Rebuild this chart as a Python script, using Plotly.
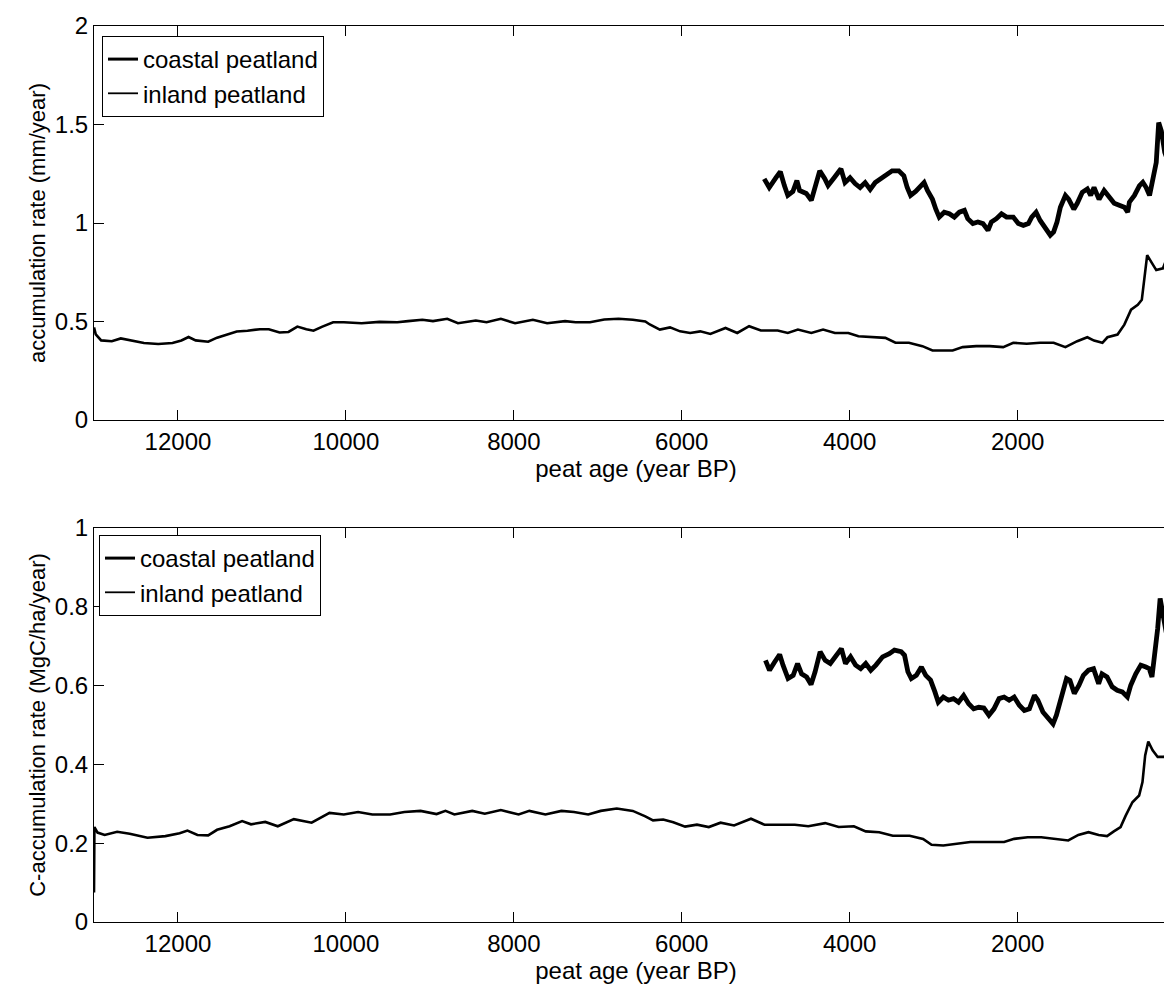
import plotly.graph_objects as go

# ---------------- data ----------------
# Top panel: accumulation rate (mm/year)
top_coastal_age = [5018, 4958, 4878, 4826, 4778, 4737, 4677, 4629, 4597, 4517, 4457, 4417, 4357, 4297,
                   4257, 4176, 4104, 4056, 3996, 3936, 3876, 3816, 3756, 3696, 3615, 3555, 3495, 3415,
                   3355, 3315, 3275, 3215, 3174, 3114, 3074, 3014, 2974, 2934, 2874, 2814, 2754, 2694,
                   2634, 2594, 2533, 2473, 2413, 2353, 2313, 2253, 2192, 2132, 2052, 1992, 1932, 1872,
                   1832, 1780, 1732, 1671, 1611, 1571, 1531, 1491, 1431, 1391, 1331, 1290, 1230, 1170,
                   1130, 1090, 1030, 970, 910, 850, 790, 729, 689, 669, 609, 549, 509, 469, 429, 389,
                   349, 320, 288, 248, 188, 148, 110]
top_coastal_rate = [1.224, 1.18, 1.23, 1.26, 1.19, 1.14, 1.16, 1.215, 1.165, 1.15, 1.115, 1.17, 1.265, 1.225,
                    1.19, 1.235, 1.275, 1.205, 1.23, 1.2, 1.18, 1.205, 1.17, 1.205, 1.23, 1.25, 1.265, 1.265,
                    1.24, 1.18, 1.14, 1.16, 1.18, 1.205, 1.165, 1.12, 1.07, 1.03, 1.055, 1.047, 1.03, 1.055,
                    1.064, 1.022, 0.997, 1.005, 0.997, 0.963, 1.005, 1.022, 1.047, 1.03, 1.03, 0.997, 0.988, 0.997,
                    1.03, 1.055, 1.013, 0.971, 0.938, 0.955, 1.005, 1.08, 1.14, 1.12, 1.07, 1.1, 1.156, 1.173,
                    1.14, 1.18, 1.12, 1.165, 1.13, 1.1, 1.09, 1.08, 1.055, 1.106, 1.14, 1.19, 1.207, 1.18, 1.14, 1.23,
                    1.307, 1.51, 1.467, 1.358, 1.29, 1.266, 1.34]

top_inland_age = [13000, 12979, 12915, 12788, 12681, 12575, 12405, 12235, 12065, 11959, 11874, 11789, 11640,
                  11534, 11427, 11300, 11172, 11024, 10918, 10790, 10684, 10578, 10471, 10386, 10280, 10152,
                  10025, 9813, 9600, 9388, 9260, 9090, 8963, 8793, 8665, 8453, 8325, 8155, 7985, 7773, 7603,
                  7390, 7263, 7093, 6923, 6753, 6583, 6434, 6381, 6261, 6140, 6020, 5900, 5780, 5659, 5479,
                  5339, 5198, 5058, 4858, 4737, 4617, 4457, 4317, 4176, 4016, 3896, 3736, 3575, 3455, 3295,
                  3134, 3014, 2894, 2774, 2654, 2493, 2333, 2172, 2052, 1892, 1732, 1571, 1431, 1290, 1170,
                  1090, 990, 930, 810, 729, 649, 569, 521, 489, 457, 409, 349, 269, 209, 160, 120, 95]
top_inland_rate = [0.47, 0.435, 0.404, 0.40, 0.414, 0.404, 0.391, 0.386, 0.391, 0.404, 0.421, 0.404, 0.397,
                   0.418, 0.432, 0.449, 0.453, 0.461, 0.461, 0.444, 0.447, 0.474, 0.461, 0.453, 0.474, 0.496,
                   0.496, 0.491, 0.498, 0.496, 0.502, 0.509, 0.502, 0.514, 0.491, 0.505, 0.496, 0.514, 0.491, 0.509, 0.491,
                   0.502, 0.496, 0.496, 0.51, 0.514, 0.509, 0.5, 0.485, 0.459, 0.47, 0.45, 0.442, 0.45, 0.437, 0.467,
                   0.442, 0.476, 0.454, 0.454, 0.442, 0.459, 0.442, 0.459, 0.442, 0.442, 0.425, 0.42, 0.417, 0.392, 0.392,
                   0.375, 0.353, 0.353, 0.353, 0.37, 0.375, 0.375, 0.37, 0.392, 0.387, 0.392, 0.392, 0.37, 0.4, 0.42,
                   0.403, 0.392, 0.42, 0.434, 0.484, 0.56, 0.585, 0.61, 0.736, 0.837, 0.803, 0.761, 0.77, 0.837, 0.938, 1.005, 1.04]

# Bottom panel: C-accumulation rate (MgC/ha/year)
bot_coastal_age = [5003, 4955, 4894, 4834, 4794, 4734, 4673, 4621, 4573, 4513, 4460, 4412, 4352, 4292, 4231,
                   4151, 4099, 4050, 3990, 3930, 3869, 3809, 3749, 3688, 3608, 3528, 3467, 3387, 3347, 3307,
                   3266, 3206, 3146, 3094, 3037, 2985, 2945, 2885, 2824, 2764, 2704, 2643, 2583, 2523, 2463,
                   2402, 2342, 2282, 2221, 2161, 2101, 2041, 1980, 1920, 1860, 1800, 1759, 1699, 1639, 1578,
                   1538, 1478, 1418, 1377, 1325, 1269, 1217, 1156, 1096, 1035, 995, 935, 874, 814, 754, 693,
                   653, 593, 533, 472, 432, 400, 372, 332, 303, 271, 231, 171, 119, 99]
bot_coastal_rate = [0.664, 0.639, 0.66, 0.679, 0.652, 0.618, 0.626, 0.656, 0.63, 0.622, 0.603, 0.635, 0.686, 0.664, 0.656,
                    0.677, 0.694, 0.656, 0.673, 0.652, 0.643, 0.656, 0.639, 0.652, 0.673, 0.681, 0.69, 0.686, 0.677, 0.635,
                    0.618, 0.626, 0.647, 0.626, 0.614, 0.584, 0.558, 0.571, 0.563, 0.567, 0.558, 0.575, 0.554, 0.541, 0.545,
                    0.543, 0.525, 0.541, 0.567, 0.571, 0.563, 0.571, 0.55, 0.537, 0.541, 0.575, 0.563, 0.533, 0.516, 0.503,
                    0.525, 0.567, 0.618, 0.613, 0.58, 0.601, 0.626, 0.639, 0.643, 0.605, 0.63, 0.622, 0.597, 0.588, 0.584, 0.571,
                    0.601, 0.63, 0.652, 0.647, 0.643, 0.622, 0.669, 0.745, 0.821, 0.787, 0.736, 0.703, 0.686, 0.76]

bot_inland_age = [13000, 12995, 12958, 12873, 12724, 12575, 12363, 12150, 11980, 11887, 11768, 11640, 11534,
                  11385, 11236, 11130, 10960, 10811, 10620, 10408, 10195, 10025, 9855, 9685, 9473, 9303, 9111,
                  8920, 8814, 8708, 8495, 8346, 8155, 7943, 7815, 7624, 7433, 7284, 7114, 6965, 6774, 6583,
                  6434, 6342, 6221, 6101, 5960, 5819, 5678, 5538, 5377, 5176, 5015, 4814, 4653, 4493, 4292,
                  4131, 3950, 3809, 3648, 3487, 3286, 3126, 3025, 2885, 2724, 2563, 2362, 2161, 2041, 1880,
                  1719, 1558, 1397, 1277, 1156, 1035, 935, 854, 774, 713, 633, 553, 513, 481, 444, 392, 332,
                  251, 199, 151, 111, 95]
bot_inland_rate = [0.075, 0.241, 0.227, 0.221, 0.229, 0.224, 0.214, 0.218, 0.225, 0.232, 0.221, 0.22, 0.234,
                   0.243, 0.256, 0.248, 0.254, 0.243, 0.261, 0.252, 0.277, 0.273, 0.279, 0.273, 0.273, 0.279, 0.282,
                   0.274, 0.282, 0.273, 0.282, 0.275, 0.284, 0.273, 0.282, 0.273, 0.282, 0.279, 0.273, 0.282, 0.288, 0.282,
                   0.268, 0.258, 0.26, 0.253, 0.242, 0.247, 0.241, 0.252, 0.245, 0.262, 0.247, 0.247, 0.247, 0.243, 0.251,
                   0.241, 0.243, 0.23, 0.228, 0.219, 0.219, 0.211, 0.196, 0.194, 0.198, 0.203, 0.203, 0.203, 0.211, 0.215,
                   0.215, 0.211, 0.207, 0.221, 0.228, 0.221, 0.218, 0.23, 0.241, 0.27, 0.304, 0.321, 0.355, 0.423, 0.458, 0.436, 0.419,
                   0.419, 0.44, 0.499, 0.567, 0.58]

x_tick_vals = [12000, 10000, 8000, 6000, 4000, 2000]
x_tick_text = ["12000", "10000", "8000", "6000", "4000", "2000"]
top_y_ticks = [0, 0.5, 1, 1.5, 2]
top_y_text = ["0", "0.5", "1", "1.5", "2"]
bot_y_ticks = [0, 0.2, 0.4, 0.6, 0.8, 1]
bot_y_text = ["0", "0.2", "0.4", "0.6", "0.8", "1"]

series_names = ["coastal peatland", "inland peatland"]

# ---------------- figure ----------------
W, H = 1172, 984
FONT = "Liberation Sans, Arial, Helvetica, sans-serif"
FS = 24

COAST_W, INLAND_W = 4.8, 2.6

fig = go.Figure()
fig.add_trace(go.Scatter(x=top_coastal_age, y=top_coastal_rate, mode="lines", name=series_names[0],
                         line=dict(color="black", width=COAST_W), xaxis="x", yaxis="y", showlegend=False))
fig.add_trace(go.Scatter(x=top_inland_age, y=top_inland_rate, mode="lines", name=series_names[1],
                         line=dict(color="black", width=INLAND_W), xaxis="x", yaxis="y", showlegend=False))
fig.add_trace(go.Scatter(x=bot_coastal_age, y=bot_coastal_rate, mode="lines", name=series_names[0],
                         line=dict(color="black", width=COAST_W), xaxis="x2", yaxis="y2", showlegend=False))
fig.add_trace(go.Scatter(x=bot_inland_age, y=bot_inland_rate, mode="lines", name=series_names[1],
                         line=dict(color="black", width=INLAND_W), xaxis="x2", yaxis="y2", showlegend=False))

# legend entries (thinner sample lines, as in the original legend)
for xa, ya, lg in (("x", "y", "legend"), ("x2", "y2", "legend2")):
    fig.add_trace(go.Scatter(x=[None], y=[None], mode="lines", name=series_names[0],
                             line=dict(color="black", width=3), xaxis=xa, yaxis=ya, legend=lg))
    fig.add_trace(go.Scatter(x=[None], y=[None], mode="lines", name=series_names[1],
                             line=dict(color="black", width=1.8), xaxis=xa, yaxis=ya, legend=lg))


def xax(anchor):
    return dict(range=[13000, 90], tickmode="array", tickvals=x_tick_vals, ticktext=x_tick_text,
                ticks="inside", ticklen=10, tickwidth=1, tickcolor="black",
                showline=True, linecolor="black", linewidth=1, mirror="ticks",
                showgrid=False, zeroline=False, anchor=anchor, domain=[0, 1], automargin=False,
                tickfont=dict(family=FONT, size=FS, color="black"),
                title=dict(text="peat age (year BP)", font=dict(family=FONT, size=FS, color="black"), standoff=3))


def yax(anchor, dom, rng, vals, text, title):
    return dict(range=rng, tickmode="array", tickvals=vals, ticktext=text,
                ticks="inside", ticklen=10, tickwidth=1, tickcolor="black",
                showline=True, linecolor="black", linewidth=1, mirror="ticks",
                showgrid=False, zeroline=False, anchor=anchor, domain=dom, automargin=False,
                tickfont=dict(family=FONT, size=FS, color="black"),
                title=dict(text=title, font=dict(family=FONT, size=FS - 2, color="black"), standoff=3))


top_dom = [1 - 412 / H, 1 - 18 / H]
bot_dom = [1 - 914 / H, 1 - 520 / H]

legend_style = dict(bgcolor="white", bordercolor="black", borderwidth=1,
                    font=dict(family=FONT, size=FS, color="black"),
                    xanchor="left", yanchor="top", itemwidth=30, tracegroupgap=0)

fig.update_layout(
    width=W, height=H,
    margin=dict(l=86, r=2, t=0, b=0, autoexpand=False),
    paper_bgcolor="white", plot_bgcolor="white",
    font=dict(family=FONT, size=FS, color="black"),
    xaxis=xax("y"),
    yaxis=yax("x", top_dom, [0, 2], top_y_ticks, top_y_text, "accumulation rate (mm/year)"),
    xaxis2=xax("y2"),
    yaxis2=yax("x2", bot_dom, [0, 1], bot_y_ticks, bot_y_text, "C-accumulation rate (MgC/ha/year)"),
    legend=dict(x=(94 - 86) / 1084, y=1 - 28 / H, **legend_style),
    legend2=dict(x=(91 - 86) / 1084, y=1 - 527 / H, **legend_style),
    showlegend=True,
)

fig.write_html("out.html")
